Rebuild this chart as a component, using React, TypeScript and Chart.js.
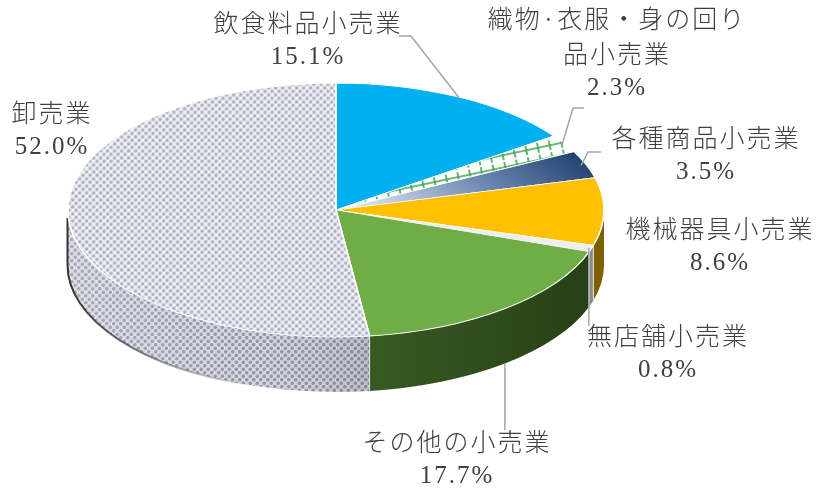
import React, { useEffect, useRef } from "react";
import { Chart, registerables } from "chart.js";

Chart.register(...registerables);

// ---- data ----
const categories = [
  "飲食料品小売業",
  "織物·衣服・身の回り\n品小売業",
  "各種商品小売業",
  "機械器具小売業",
  "無店舗小売業",
  "その他の小売業",
  "卸売業",
];
const shares = [15.1, 2.3, 3.5, 8.6, 0.8, 17.7, 52.0];

// ---- geometry / layout (not data) ----
const W = 817;
const H = 495;
const CX = 336;
const CY = 210;
const RX = 268;
const RY = 127;
const DEPTH = 55;
const LINE_PITCH = 35;

const labelPos: [number, number][] = [
  [307, 22],
  [616, 18],
  [705, 137],
  [719, 228],
  [667, 335],
  [456, 441],
  [51, 112],
];

type Leader = { index: number; r: number; base: boolean; path: [number | null, number][] };
const leaders: Leader[] = [
  { index: 0, r: 1, base: false, path: [[411, 36], [399, 36]] },
  { index: 1, r: 0.99, base: false, path: [[573, 108], [584, 108]] },
  { index: 2, r: 0.98, base: false, path: [[588, 152], [601, 152]] },
  { index: 4, r: 0.99, base: false, path: [[null, 326]] },
  { index: 5, r: 1, base: true, path: [[null, 430]] },
];

const TEXT_COLOR = "#404040";
const LEADER_COLOR = "#A6A6A6";

function tile(size: number, draw: (g: CanvasRenderingContext2D) => void) {
  const c = document.createElement("canvas");
  c.width = size;
  c.height = size;
  const g = c.getContext("2d")!;
  draw(g);
  return c;
}

function dotTile(bg: string, dot: string, size: number, rad: number) {
  return tile(size, (g) => {
    g.fillStyle = bg;
    g.fillRect(0, 0, size, size);
    g.fillStyle = dot;
    const pts = [
      [size * 0.25, size * 0.25],
      [size * 0.75, size * 0.75],
      [size * 1.25, size * 0.25],
      [size * -0.25, size * 0.75],
    ];
    pts.forEach(([x, y]) => {
      g.beginPath();
      g.arc(x, y, rad, 0, Math.PI * 2);
      g.fill();
    });
  });
}

function gridTile() {
  const s = 12;
  return tile(s, (g) => {
    g.fillStyle = "#FFFFFF";
    g.fillRect(0, 0, s, s);
    g.strokeStyle = "#3FA34D";
    g.lineWidth = 1.6;
    g.beginPath();
    g.moveTo(0, 6);
    g.lineTo(s, 6);
    g.moveTo(6, 1);
    g.lineTo(6, 11);
    g.stroke();
  });
}

export default function App() {
  const ref = useRef<HTMLCanvasElement>(null);

  useEffect(() => {
    const canvas = ref.current!;
    const ctx0 = canvas.getContext("2d")!;
    const dotsTop = ctx0.createPattern(dotTile("#F2F3F7", "#AEB0C1", 7, 1.8), "repeat")!;
    const dotsWall = ctx0.createPattern(dotTile("#D4D5DF", "#8E90A4", 7, 1.8), "repeat")!;
    const gridTop = ctx0.createPattern(gridTile(), "repeat")!;

    const topColors: any[] = ["#00B0F0", gridTop, "#2E4F80", "#FFC000", "#EEEEEE", "#70AD47", dotsTop];

    const wallFill = (ctx: CanvasRenderingContext2D, i: number): any => {
      if (i === 6) return dotsWall;
      if (i === 5) {
        const g = ctx.createLinearGradient(370, 0, 600, 0);
        g.addColorStop(0, "#375A22");
        g.addColorStop(1, "#263F16");
        return g;
      }
      if (i === 3) return "#7F6000";
      if (i === 4) return "#8A8A8A";
      if (i === 2) return "#1F3D6B";
      if (i === 1) return "#A9BDA2";
      return "#0079A8";
    };

    const pie3d = {
      id: "pie3d",
      beforeDatasetsDraw(chart: any) {
        const ctx: CanvasRenderingContext2D = chart.ctx;
        const arcs = chart.getDatasetMeta(0).data as any[];
        if (!arcs.length) return;

        // side walls (front half only)
        arcs.forEach((arc, i) => {
          const a = Math.max(arc.startAngle, 0);
          const b = Math.min(arc.endAngle, Math.PI);
          if (b <= a) return;
          ctx.save();
          ctx.beginPath();
          ctx.ellipse(CX, CY, RX, RY, 0, a, b, false);
          ctx.ellipse(CX, CY + DEPTH, RX, RY, 0, b, a, true);
          ctx.closePath();
          ctx.fillStyle = wallFill(ctx, i);
          ctx.fill();
          if (i === 6) {
            const g = ctx.createLinearGradient(CX - RX, 0, CX + 40, 0);
            g.addColorStop(0, "rgba(255,255,255,0.25)");
            g.addColorStop(0.6, "rgba(255,255,255,0.05)");
            g.addColorStop(1, "rgba(60,60,80,0.15)");
            ctx.fillStyle = g;
            ctx.fill();
          }
          ctx.restore();
        });

        // dark shadow edge along the bottom-left of the wall
        ctx.save();
        const sg = ctx.createLinearGradient(CX - RX, 0, CX - 80, 0);
        sg.addColorStop(0, "rgba(30,30,30,0.9)");
        sg.addColorStop(1, "rgba(30,30,30,0)");
        ctx.strokeStyle = sg;
        ctx.lineWidth = 2;
        ctx.beginPath();
        ctx.ellipse(CX, CY + DEPTH, RX + 0.5, RY, 0, Math.PI, Math.PI * 0.6, true);
        ctx.stroke();
        ctx.beginPath();
        ctx.moveTo(CX - RX - 0.5, CY + 8);
        ctx.lineTo(CX - RX - 0.5, CY + DEPTH);
        ctx.stroke();
        ctx.restore();

        // light separators between walls
        ctx.save();
        ctx.strokeStyle = "rgba(235,235,235,0.9)";
        ctx.lineWidth = 1;
        arcs.forEach((arc) => {
          const t = arc.endAngle;
          if (t > 0.02 && t < Math.PI - 0.02) {
            const x = CX + RX * Math.cos(t);
            const y = CY + RY * Math.sin(t);
            ctx.beginPath();
            ctx.moveTo(x, y);
            ctx.lineTo(x, y + DEPTH);
            ctx.stroke();
          }
        });
        ctx.restore();

        // map the library's circular pie to the flattened ellipse
        const { x, y, outerRadius: r } = arcs[0];
        const sx = RX / r;
        const sy = RY / r;

        // keep patterns undistorted
        dotsTop.setTransform(new DOMMatrix([1 / sx, 0, 0, 1 / sy, 0, 0]));
        gridTop.setTransform(new DOMMatrix([1 / sx, 0, 0, 1 / sy, 0, 0]).rotate(-12));

        // gradient for 各種商品小売業
        const nav = arcs[2];
        const m = (nav.startAngle + nav.endAngle) / 2;
        const gg = ctx.createLinearGradient(
          x + Math.cos(m) * r,
          y + Math.sin(m) * r - 20,
          x + Math.cos(m) * r * 0.15,
          y + Math.sin(m) * r * 0.15 + 40
        );
        gg.addColorStop(0, "#1E3C6A");
        gg.addColorStop(0.45, "#6A86B0");
        gg.addColorStop(1, "#E6EBF3");
        nav.options = { ...nav.options, backgroundColor: gg };

        ctx.save();
        ctx.translate(CX, CY);
        ctx.scale(sx, sy);
        ctx.translate(-x, -y);
      },
      afterDatasetsDraw(chart: any) {
        chart.ctx.restore();
      },
      afterDraw(chart: any) {
        const ctx: CanvasRenderingContext2D = chart.ctx;
        const arcs = chart.getDatasetMeta(0).data as any[];
        if (!arcs.length) return;
        ctx.save();
        ctx.strokeStyle = LEADER_COLOR;
        ctx.lineWidth = 1.5;
        leaders.forEach((L) => {
          const arc = arcs[L.index];
          const m = (arc.startAngle + arc.endAngle) / 2;
          const ax = CX + RX * L.r * Math.cos(m);
          const ay = CY + RY * L.r * Math.sin(m) + (L.base ? DEPTH : 0);
          ctx.beginPath();
          ctx.moveTo(ax, ay);
          L.path.forEach(([px, py]) => ctx.lineTo(px === null ? ax : px, py));
          ctx.stroke();
        });

        ctx.fillStyle = TEXT_COLOR;
        ctx.textAlign = "center";
        ctx.textBaseline = "middle";
        categories.forEach((name, i) => {
          const [lx, ly] = labelPos[i];
          const lines = name.split("\n");
          (ctx as any).letterSpacing = "2px";
          ctx.font = '300 25px "Noto Sans CJK JP"';
          lines.forEach((ln, k) => {
            ctx.fillText(ln, lx + 1, ly + k * LINE_PITCH);
          });
          (ctx as any).letterSpacing = "2px";
          ctx.font = '25px "Liberation Serif", "Noto Sans CJK JP"';
          ctx.fillText(`${shares[i].toFixed(1)}%`, lx + 1, ly + lines.length * LINE_PITCH);
        });
        ctx.restore();
      },
    };

    const chart = new Chart(canvas, {
      type: "pie",
      data: {
        labels: categories,
        datasets: [
          {
            data: shares,
            backgroundColor: topColors,
            borderColor: "#FFFFFF",
            borderWidth: 1.5,
            clip: false as any,
          } as any,
        ],
      },
      options: {
        responsive: false,
        animation: false,
        devicePixelRatio: 1,
        events: [],
        layout: { padding: 0 },
        plugins: {
          legend: { display: false },
          tooltip: { enabled: false },
        },
      },
      plugins: [pie3d],
    });
    return () => chart.destroy();
  }, []);

  return (
    <div style={{ position: "fixed", left: 0, top: 0, width: W, height: H, background: "#FFFFFF" }}>
      <canvas ref={ref} width={W} height={H} style={{ display: "block", width: W, height: H }} />
    </div>
  );
}
